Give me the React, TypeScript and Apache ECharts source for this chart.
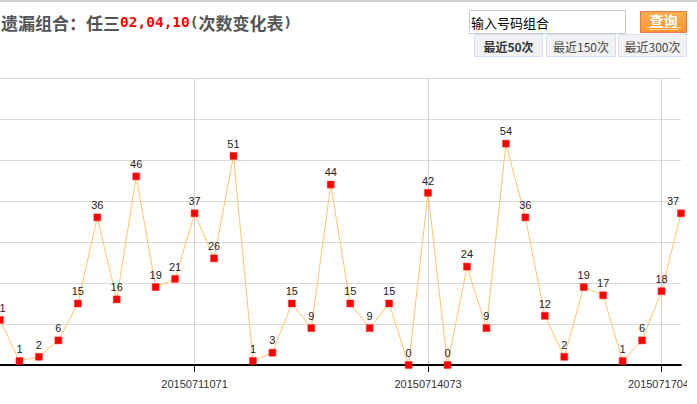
import React, { useEffect, useRef } from "react";
import * as echarts from "echarts";

// visible periods (only the tick periods are labelled on the axis)
const categories: string[] = [
  "", "", "", "", "", "", "", "", "", "", "20150711071", "",
  "", "", "", "", "", "", "", "", "", "", "20150714073", "",
  "", "", "", "", "", "", "", "", "", "", "20150717045", "",
];

// 遗漏次数 per period
const values: number[] = [
  11, 1, 2, 6, 15, 36, 16, 46, 19, 21, 37, 26,
  51, 1, 3, 15, 9, 44, 15, 9, 15, 0, 42, 0,
  24, 9, 54, 36, 12, 2, 19, 17, 1, 6, 18, 37,
];

const titlePrefix = "遗漏组合：任三";
const titleNumbers = "02,04,10";
const titleSuffix = "次数变化表";
const inputHint = "输入号码组合";
const buttonText = "查询";
const tabs = ["最近50次", "最近150次", "最近300次"];

const yMin = 0;
const yMax = 70;
const yStep = 10;

export default function App() {
  const ref = useRef<HTMLDivElement>(null);

  useEffect(() => {
    if (!ref.current) return;
    const chart = echarts.init(ref.current, undefined, { renderer: "svg" });
    const tickAt = (_i: number, v: string) => v !== "";
    const tabRects = [
      { x: 474, w: 68 },
      { x: 546, w: 69 },
      { x: 618, w: 68 },
    ];
    const seriesData = values.map((v, i) =>
      i === values.length - 1 ? { value: v, label: { offset: [-8, 0] } } : v
    );
    chart.setOption({
      animation: false,
      backgroundColor: "#fff",
      grid: { left: 0, right: 6, top: 78, bottom: 39, containLabel: false, outerBoundsMode: "none" },
      xAxis: {
        type: "category",
        data: categories,
        boundaryGap: false,
        axisLine: { lineStyle: { color: "#000", width: 2 } },
        axisTick: { show: true, length: 7, interval: tickAt, lineStyle: { color: "#000", width: 1 } },
        axisLabel: {
          interval: 0,
          margin: 13,
          fontSize: 11,
          color: "#333",
          fontFamily: "Liberation Sans, Arial, sans-serif",
        },
        splitLine: { show: true, interval: tickAt, lineStyle: { color: "#d3d3d3", width: 1 } },
      },
      yAxis: {
        type: "value",
        min: yMin,
        max: yMax,
        interval: yStep,
        axisLabel: { show: false },
        axisLine: { show: false },
        axisTick: { show: false },
        splitLine: { show: true, lineStyle: { color: "#d9d9d9", width: 1 } },
      },
      series: [
        {
          type: "line",
          data: seriesData,
          symbol: "rect",
          symbolSize: 7,
          showAllSymbol: true,
          lineStyle: { color: "#ffc46e", width: 1 },
          itemStyle: { color: "#ff0000", borderColor: "#ff3030", borderWidth: 0.5 },
          label: {
            show: true,
            position: "top",
            distance: 3,
            fontSize: 11,
            color: "#222",
            fontFamily: "Liberation Sans, Arial, sans-serif",
          },
        },
      ],
      graphic: [
        {
          type: "text",
          x: 1,
          y: 22,
          style: {
            text: `{g|${titlePrefix}}{r|${titleNumbers}}{p|(}{g|${titleSuffix}}{p|)}`,
            verticalAlign: "middle",
            rich: {
              g: { fontFamily: "Noto Sans CJK SC", fontSize: 17, fontWeight: "bold", fill: "#555" },
              r: { fontFamily: "DejaVu Sans Mono", fontSize: 14.5, fontWeight: "bold", fill: "#ff0000" },
              p: { fontFamily: "DejaVu Sans Mono", fontSize: 14.5, fontWeight: "bold", fill: "#555" },
            },
          },
        },
        {
          type: "rect",
          shape: { x: 469.5, y: 10.5, width: 156, height: 23 },
          style: { fill: "#fff", stroke: "#c8c8c8", lineWidth: 1 },
        },
        {
          type: "text",
          x: 471,
          y: 22,
          style: {
            text: inputHint,
            fontFamily: "Noto Sans CJK SC",
            fontSize: 13,
            fill: "#000",
            verticalAlign: "middle",
          },
        },
        {
          type: "rect",
          shape: { x: 640.5, y: 11.5, width: 46, height: 21 },
          style: {
            fill: new echarts.graphic.LinearGradient(0, 0, 0, 1, [
              { offset: 0, color: "#ffb050" },
              { offset: 1, color: "#ff9330" },
            ]),
            stroke: "#f07848",
            lineWidth: 1,
          },
        },
        {
          type: "line",
          shape: { x1: 647, y1: 27.5, x2: 681, y2: 27.5 },
          style: { stroke: "#ffe0b0", lineWidth: 1 },
        },
        {
          type: "line",
          shape: { x1: 649, y1: 29.5, x2: 679, y2: 29.5 },
          style: { stroke: "#ffd090", lineWidth: 1 },
        },
        {
          type: "text",
          x: 663.5,
          y: 19.5,
          style: {
            text: buttonText,
            fontFamily: "Noto Sans CJK SC",
            fontSize: 14,
            fontWeight: "bold",
            fill: "#fff",
            align: "center",
            verticalAlign: "middle",
          },
        },
        ...tabs.flatMap((t, i) => [
          {
            type: "rect",
            shape: { x: tabRects[i].x + 0.5, y: 34.5, width: tabRects[i].w, height: 22 },
            style: { fill: "#f2f2f2", stroke: "#d3e2f7", lineWidth: 1 },
          },
          {
            type: "text",
            x: tabRects[i].x + tabRects[i].w / 2 + 0.5,
            y: 46,
            style: {
              text: t,
              fontFamily: "Noto Sans CJK SC",
              fontSize: 12,
              fontWeight: i === 0 ? "bold" : "normal",
              fill: i === 0 ? "#333" : "#444",
              align: "center",
              verticalAlign: "middle",
            },
          },
        ]),
      ],
    });
    return () => chart.dispose();
  }, []);

  return (
    <div style={{ position: "fixed", left: 0, top: 0, width: 697, height: 404, background: "#fff", overflow: "hidden" }}>
      <div ref={ref} style={{ position: "absolute", left: 0, top: 0, width: 687, height: 404 }} />
      <div style={{ position: "absolute", left: 0, top: 0, width: 697, height: 2, background: "#cfcfcf" }} />
    </div>
  );
}
